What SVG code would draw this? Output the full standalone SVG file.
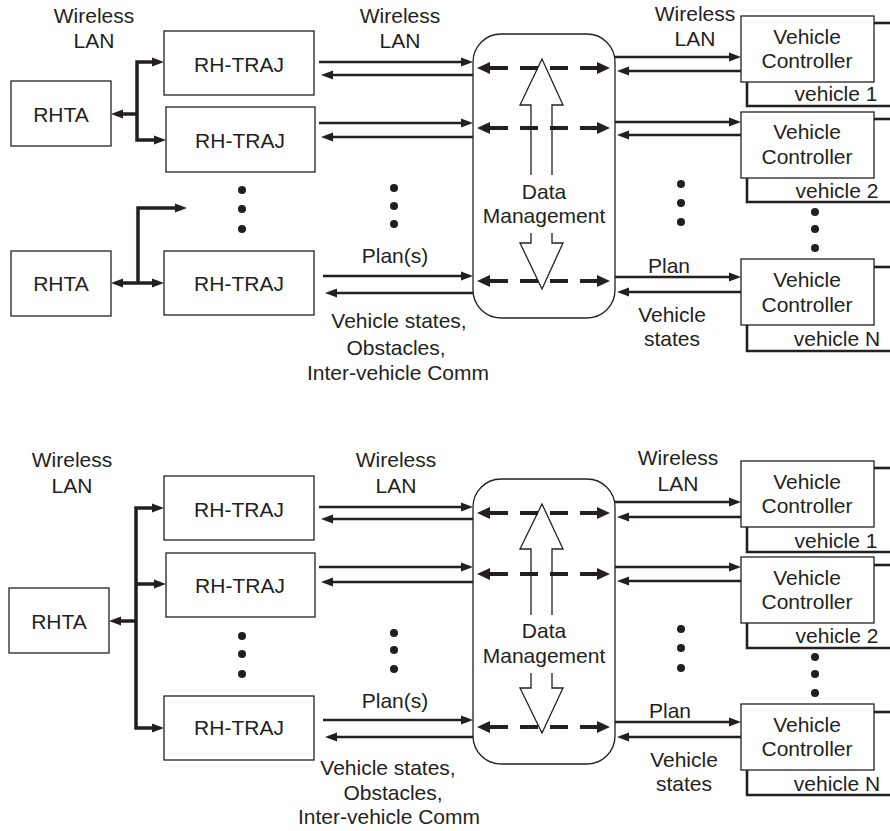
<svg xmlns="http://www.w3.org/2000/svg" width="890" height="831" viewBox="0 0 890 831">
<defs>
<marker id="ah" markerUnits="userSpaceOnUse" markerWidth="12" markerHeight="9" refX="0" refY="4.5" orient="auto-start-reverse" overflow="visible"><path d="M0,0 L12,4.5 L0,9 z" fill="#231f20"/></marker>
<marker id="dh" markerUnits="userSpaceOnUse" markerWidth="13" markerHeight="12" refX="0" refY="6" orient="auto-start-reverse" overflow="visible"><path d="M0,0 L13,6 L0,12 z" fill="#231f20"/></marker>
<style>
.box{fill:#fff;stroke:#231f20;stroke-width:1.3}
.t{font-family:"Liberation Sans",Arial,sans-serif;font-size:21px;fill:#231f20;text-anchor:middle}
.a{stroke:#231f20;stroke-width:2.6;fill:none;marker-end:url(#ah)}
.a2{stroke:#231f20;stroke-width:3.5;fill:none;marker-start:url(#ah);marker-end:url(#ah)}
.th{stroke-width:3.5}
.d{stroke:#231f20;stroke-width:4;stroke-dasharray:18 12;marker-start:url(#dh);marker-end:url(#dh)}
.ln{stroke:#231f20;stroke-width:2.6;fill:none}
.blk{fill:#fff;stroke:#231f20;stroke-width:1.3}
.dot{fill:#231f20}
</style>
</defs>
<rect width="890" height="831" fill="#fff"/>

<!-- ===== TOP PANEL ===== -->
<g id="dm1">
<rect class="box" x="473" y="34" width="142" height="284" rx="28"/>
<path class="blk" d="M531,175 V105 H520 L542,59 L563,105 H552 V175"/>
<path class="blk" d="M531,233 V243 H520 L542,289 L563,243 H552 V233"/>
<text class="t" x="544" y="199">Data</text>
<text class="t" x="544" y="223">Management</text>
</g>
<g id="rhta1a"><rect class="box" x="11" y="81" width="100" height="65"/><text class="t" x="61" y="122">RHTA</text></g>
<g id="rhta1b"><rect class="box" x="11" y="251" width="100" height="65"/><text class="t" x="61" y="291">RHTA</text></g>
<g id="traj1a"><rect class="box" x="164" y="31" width="150" height="64"/><text class="t" x="239" y="72">RH-TRAJ</text></g>
<g id="traj1b"><rect class="box" x="166" y="107" width="149" height="65"/><text class="t" x="240" y="148">RH-TRAJ</text></g>
<g id="traj1c"><rect class="box" x="164" y="251" width="150" height="64"/><text class="t" x="239" y="291">RH-TRAJ</text></g>
<g id="vc1a"><rect class="box" x="741" y="16" width="133" height="66"/><text class="t" x="807" y="44">Vehicle</text><text class="t" x="807" y="68">Controller</text></g>
<g id="vc1b"><rect class="box" x="741" y="112" width="133" height="66"/><text class="t" x="807" y="139">Vehicle</text><text class="t" x="807" y="164">Controller</text></g>
<g id="vc1c"><rect class="box" x="741" y="259" width="133" height="66"/><text class="t" x="807" y="287">Vehicle</text><text class="t" x="807" y="312">Controller</text></g>

<g id="connectors1">
<path class="a2" d="M152,62 H137 V140 H154"/>
<line class="a th" x1="137" y1="114" x2="123" y2="114"/>
<path class="a th" d="M138,283 V208 H175"/>
<line class="a2" x1="123" y1="283" x2="152" y2="283"/>

<line class="a" x1="319" y1="62" x2="461" y2="62"/>
<line class="a" x1="473" y1="75" x2="333" y2="75"/>
<line class="a" x1="319" y1="123" x2="461" y2="123"/>
<line class="a" x1="473" y1="137" x2="333" y2="137"/>
<line class="a" x1="323" y1="276" x2="461" y2="276"/>
<line class="a" x1="473" y1="293" x2="337" y2="293"/>

<line class="d" x1="490" y1="68" x2="597" y2="68"/>
<line class="d" x1="490" y1="128" x2="597" y2="128"/>
<line class="d" x1="490" y1="281" x2="597" y2="281"/>

<line class="a" x1="615" y1="57" x2="729" y2="57"/>
<line class="a" x1="741" y1="71" x2="629" y2="71"/>
<line class="a" x1="615" y1="122" x2="729" y2="122"/>
<line class="a" x1="741" y1="135" x2="629" y2="135"/>
<line class="a" x1="615" y1="277" x2="729" y2="277"/>
<line class="a" x1="741" y1="292" x2="629" y2="292"/>

<line class="ln" x1="874" y1="23" x2="890" y2="23"/>
<line class="ln" x1="874" y1="119" x2="890" y2="119"/>
<line class="ln" x1="874" y1="267" x2="890" y2="267"/>
<path class="ln" d="M747,82 V106 H890"/>
<path class="ln" d="M747,178 V202 H890"/>
<path class="ln" d="M747,325 V351 H890"/>
</g>

<g id="labels1">
<text class="t" x="94" y="23">Wireless</text><text class="t" x="94" y="48">LAN</text>
<text class="t" x="400" y="23">Wireless</text><text class="t" x="400" y="48">LAN</text>
<text class="t" x="695" y="21">Wireless</text><text class="t" x="695" y="46">LAN</text>
<text class="t" x="395" y="263">Plan(s)</text>
<text class="t" x="399" y="328">Vehicle states,</text>
<text class="t" x="396" y="355">Obstacles,</text>
<text class="t" x="398" y="380">Inter-vehicle Comm</text>
<text class="t" x="669" y="273">Plan</text>
<text class="t" x="672" y="322">Vehicle</text><text class="t" x="672" y="346">states</text>
<text class="t" x="836" y="101">vehicle 1</text>
<text class="t" x="837" y="198">vehicle 2</text>
<text class="t" x="837" y="346">vehicle N</text>
</g>
<g id="dots1">
<circle class="dot" cx="242" cy="190" r="4"/><circle class="dot" cx="242" cy="209" r="4"/><circle class="dot" cx="242" cy="229" r="4"/>
<circle class="dot" cx="394" cy="188" r="4"/><circle class="dot" cx="394" cy="206" r="4"/><circle class="dot" cx="394" cy="224" r="4"/>
<circle class="dot" cx="681" cy="184" r="4"/><circle class="dot" cx="681" cy="203" r="4"/><circle class="dot" cx="681" cy="222" r="4"/>
<circle class="dot" cx="815" cy="212" r="4"/><circle class="dot" cx="815" cy="229" r="4"/><circle class="dot" cx="815" cy="248" r="4"/>
</g>

<!-- ===== BOTTOM PANEL ===== -->
<g id="dm2">
<rect class="box" x="473" y="479" width="142" height="285" rx="28"/>
<path class="blk" d="M531,615 V549 H520 L542,504 L563,549 H552 V615"/>
<path class="blk" d="M531,673 V688 H520 L542,733 L563,688 H552 V673"/>
<text class="t" x="544" y="638">Data</text>
<text class="t" x="544" y="663">Management</text>
</g>
<g id="rhta2"><rect class="box" x="9" y="588" width="100" height="65"/><text class="t" x="59" y="629">RHTA</text></g>
<g id="traj2a"><rect class="box" x="164" y="476" width="150" height="64"/><text class="t" x="239" y="517">RH-TRAJ</text></g>
<g id="traj2b"><rect class="box" x="166" y="553" width="149" height="64"/><text class="t" x="240" y="593">RH-TRAJ</text></g>
<g id="traj2c"><rect class="box" x="164" y="696" width="150" height="64"/><text class="t" x="239" y="735">RH-TRAJ</text></g>
<g id="vc2a"><rect class="box" x="741" y="461" width="133" height="66"/><text class="t" x="807" y="489">Vehicle</text><text class="t" x="807" y="513">Controller</text></g>
<g id="vc2b"><rect class="box" x="741" y="557" width="133" height="66"/><text class="t" x="807" y="585">Vehicle</text><text class="t" x="807" y="609">Controller</text></g>
<g id="vc2c"><rect class="box" x="741" y="704" width="133" height="66"/><text class="t" x="807" y="732">Vehicle</text><text class="t" x="807" y="756">Controller</text></g>

<g id="connectors2">
<path class="a2" d="M152,508 H136 V728 H152"/>
<line class="a th" x1="136" y1="584" x2="154" y2="584"/>
<line class="a th" x1="136" y1="621" x2="121" y2="621"/>

<line class="a" x1="319" y1="507" x2="461" y2="507"/>
<line class="a" x1="473" y1="519" x2="333" y2="519"/>
<line class="a" x1="319" y1="567" x2="461" y2="567"/>
<line class="a" x1="473" y1="582" x2="333" y2="582"/>
<line class="a" x1="323" y1="720" x2="461" y2="720"/>
<line class="a" x1="473" y1="737" x2="337" y2="737"/>

<line class="d" x1="490" y1="513" x2="597" y2="513"/>
<line class="d" x1="490" y1="574" x2="597" y2="574"/>
<line class="d" x1="490" y1="727" x2="597" y2="727"/>

<line class="a" x1="615" y1="502" x2="729" y2="502"/>
<line class="a" x1="741" y1="517" x2="629" y2="517"/>
<line class="a" x1="615" y1="567" x2="729" y2="567"/>
<line class="a" x1="741" y1="581" x2="629" y2="581"/>
<line class="a" x1="615" y1="722" x2="729" y2="722"/>
<line class="a" x1="741" y1="737" x2="629" y2="737"/>

<line class="ln" x1="874" y1="468" x2="890" y2="468"/>
<line class="ln" x1="874" y1="565" x2="890" y2="565"/>
<line class="ln" x1="874" y1="712" x2="890" y2="712"/>
<path class="ln" d="M747,527 V552 H890"/>
<path class="ln" d="M747,623 V648 H890"/>
<path class="ln" d="M747,770 V795 H890"/>
</g>

<g id="labels2">
<text class="t" x="72" y="467">Wireless</text><text class="t" x="72" y="493">LAN</text>
<text class="t" x="396" y="467">Wireless</text><text class="t" x="396" y="493">LAN</text>
<text class="t" x="678" y="465">Wireless</text><text class="t" x="678" y="491">LAN</text>
<text class="t" x="395" y="708">Plan(s)</text>
<text class="t" x="388" y="775">Vehicle states,</text>
<text class="t" x="393" y="800">Obstacles,</text>
<text class="t" x="389" y="824">Inter-vehicle Comm</text>
<text class="t" x="670" y="718">Plan</text>
<text class="t" x="684" y="767">Vehicle</text><text class="t" x="684" y="791">states</text>
<text class="t" x="836" y="548">vehicle 1</text>
<text class="t" x="837" y="643">vehicle 2</text>
<text class="t" x="837" y="791">vehicle N</text>
</g>
<g id="dots2">
<circle class="dot" cx="242" cy="636" r="4"/><circle class="dot" cx="242" cy="654" r="4"/><circle class="dot" cx="242" cy="674" r="4"/>
<circle class="dot" cx="394" cy="633" r="4"/><circle class="dot" cx="394" cy="650" r="4"/><circle class="dot" cx="394" cy="669" r="4"/>
<circle class="dot" cx="681" cy="629" r="4"/><circle class="dot" cx="681" cy="648" r="4"/><circle class="dot" cx="681" cy="668" r="4"/>
<circle class="dot" cx="815" cy="657" r="4"/><circle class="dot" cx="815" cy="674" r="4"/><circle class="dot" cx="815" cy="693" r="4"/>
</g>
</svg>
